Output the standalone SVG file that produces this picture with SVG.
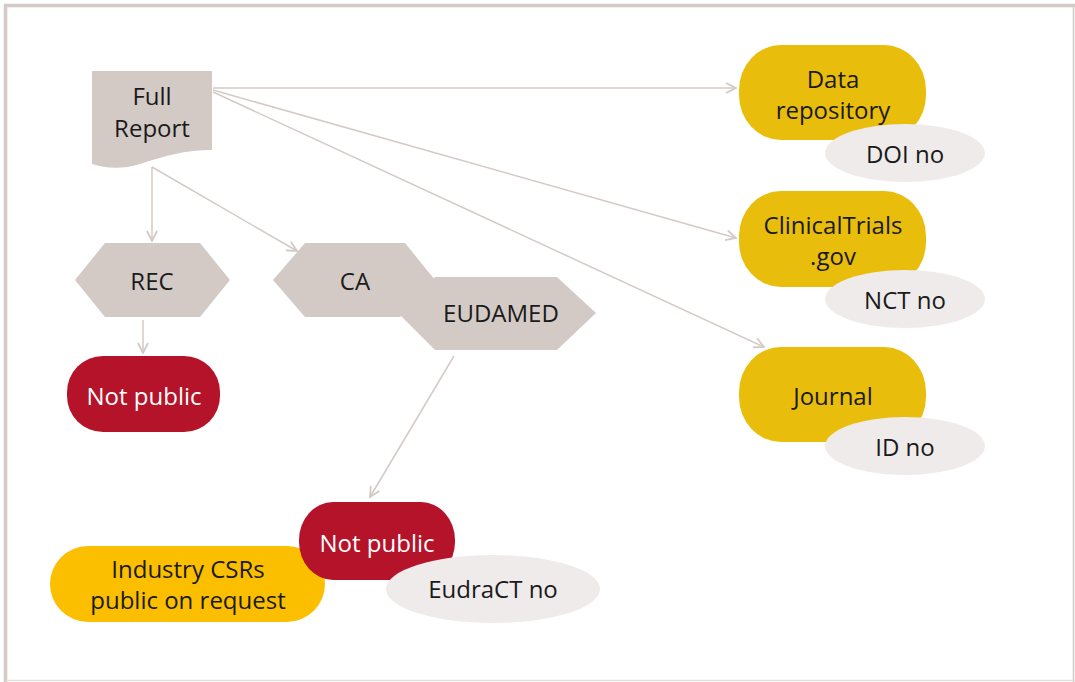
<svg xmlns="http://www.w3.org/2000/svg" width="1075" height="682" viewBox="0 0 1075 682">
<style>
text{font-family:"Open Sans","Liberation Sans",Arial,sans-serif;font-size:24px;fill:#1a1a1a;text-anchor:middle}
.g{fill:#d3cac6}
.y{fill:#e9bd0c}
.r{fill:#b51329}
.e{fill:#efebea}
.w{fill:#ffffff}
.c{stroke:#d3cac6;stroke-width:1.5;fill:none;marker-end:url(#a)}
</style>
<defs>
<marker id="a" viewBox="0 0 12 12" refX="11" refY="6" markerWidth="12" markerHeight="12" markerUnits="userSpaceOnUse" orient="auto">
<path d="M1,1 L11,6 L1,11" fill="none" stroke="#d3cac6" stroke-width="1.8"/>
</marker>
</defs>
<rect width="1075" height="682" fill="#ffffff"/>
<g id="frame">
<line x1="4" y1="5.5" x2="1075" y2="5.5" stroke="#d3cbc7" stroke-width="3.5"/>
<line x1="5.5" y1="4" x2="5.5" y2="682" stroke="#d3cbc7" stroke-width="3.5"/>
<line x1="1073.5" y1="6" x2="1073.5" y2="682" stroke="#d3cbc7" stroke-width="1.5"/>
<line x1="6" y1="680.5" x2="1075" y2="680.5" stroke="#e3dedc" stroke-width="1.5"/>
</g>
<g id="connectors">
<line class="c" x1="213" y1="88" x2="736" y2="88"/>
<line class="c" x1="213" y1="90" x2="736" y2="238"/>
<line class="c" x1="213" y1="92" x2="764" y2="347"/>
<line class="c" x1="152" y1="167" x2="152" y2="241"/>
<line class="c" x1="152" y1="167" x2="297" y2="251"/>
<line class="c" x1="143" y1="320" x2="143" y2="353"/>
<line class="c" x1="454" y1="356" x2="370" y2="497"/>
</g>
<g id="full-report">
<path class="g" d="M92,71 H212 V150 C185,150 165,156 140,164 C120,170 105,168 92,164 Z"/>
<text x="152" y="105">Full</text>
<text x="152" y="137">Report</text>
</g>
<g id="rec">
<polygon class="g" points="75,280 105,243 200,243 230,280 200,317 105,317"/>
<text x="152" y="290">REC</text>
</g>
<g id="ca">
<polygon class="g" points="273,280 305,243 405,243 435,280 400,317 305,317"/>
<text x="355" y="290">CA</text>
</g>
<g id="eudamed">
<polygon class="g" points="398,313 435,277 557,277 596,313 557,350 435,350"/>
<text x="501" y="322">EUDAMED</text>
</g>
<g id="not-public-1">
<rect class="r" x="67" y="356" width="153" height="76" rx="36" ry="36"/>
<text class="w" x="144" y="405">Not public</text>
</g>
<g id="industry-csrs">
<rect x="50" y="546" width="275" height="76" rx="38" ry="38" fill="#fbbf00"/>
<text x="188" y="578">Industry CSRs</text>
<text x="188" y="609">public on request</text>
</g>
<g id="not-public-2">
<rect class="r" x="299" y="502" width="156" height="78" rx="34" ry="38"/>
<text class="w" x="377" y="552">Not public</text>
</g>
<g id="eudract">
<ellipse class="e" cx="493" cy="589" rx="107" ry="34"/>
<text x="493" y="598">EudraCT no</text>
</g>
<g id="data-repository">
<rect class="y" x="739" y="45" width="187" height="95" rx="42" ry="45"/>
<text x="833" y="88">Data</text>
<text x="833" y="119">repository</text>
</g>
<g id="doi">
<ellipse class="e" cx="905" cy="153" rx="80" ry="29"/>
<text x="905" y="163">DOI no</text>
</g>
<g id="clinicaltrials">
<rect class="y" x="739" y="191" width="187" height="96" rx="42" ry="45"/>
<text x="833" y="234">ClinicalTrials</text>
<text x="833" y="265">.gov</text>
</g>
<g id="nct">
<ellipse class="e" cx="905" cy="299" rx="80" ry="29"/>
<text x="905" y="309">NCT no</text>
</g>
<g id="journal">
<rect class="y" x="739" y="347" width="187" height="95" rx="42" ry="45"/>
<text x="833" y="405">Journal</text>
</g>
<g id="id-no">
<ellipse class="e" cx="905" cy="446" rx="80" ry="29"/>
<text x="905" y="456">ID no</text>
</g>
</svg>
